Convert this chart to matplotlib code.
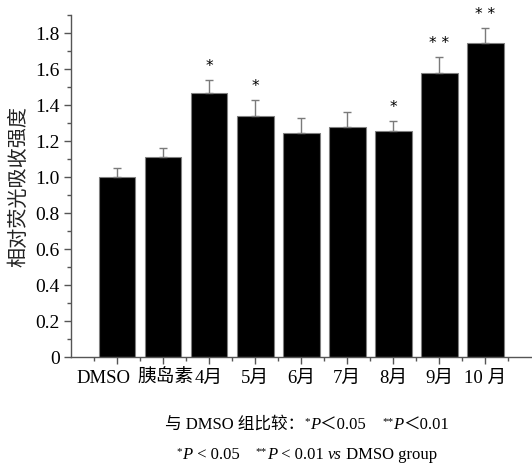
import matplotlib.pyplot as plt
from matplotlib.ticker import MultipleLocator, FixedLocator
from matplotlib.transforms import ScaledTranslation

plt.rcParams['font.family'] = ['Liberation Serif', 'Noto Sans CJK SC']

# 数据
groups = ['DMSO', '胰岛素', '4月', '5月', '6月', '7月', '8月', '9月', '10 月']
values = [1.00, 1.11, 1.47, 1.34, 1.245, 1.28, 1.255, 1.578, 1.744]
errors = [0.05, 0.05, 0.067, 0.087, 0.082, 0.082, 0.057, 0.09, 0.085]
marks = ['', '', '*', '*', '', '', '*', '**', '**']
y_ticks = [0, 0.2, 0.4, 0.6, 0.8, 1.0, 1.2, 1.4, 1.6, 1.8]
y_labels = ['0', '0.2', '0.4', '0.6', '0.8', '1.0', '1.2', '1.4', '1.6', '1.8']

fig = plt.figure(figsize=(5.32, 4.73), dpi=100)
ax = fig.add_axes([0.1335, 0.2452, 0.865, 0.7228])

x = list(range(len(groups)))
ax.bar(x, values, width=0.8, color='black', edgecolor='#808080', linewidth=0.8)
ax.errorbar(x, values, yerr=[[0] * len(errors), errors], fmt='none',
            ecolor='#7a7a7a', elinewidth=1.0, capsize=3, capthick=1.0)

# 显著性标记
for xi, v, e, m in zip(x, values, errors, marks):
    if m:
        ax.text(xi, v + e + 0.075, ' '.join(m), ha='center', va='center',
                fontsize=11, family='DejaVu Sans')

ax.set_xlim(-1, 9)
ax.set_ylim(0, 1.9)
ax.set_xticks(x)
ax.set_xticklabels(groups)
ax.xaxis.set_minor_locator(FixedLocator([i - 0.5 for i in range(len(groups) + 1)]))
ax.set_yticks(y_ticks)
ax.set_yticklabels(y_labels)
ax.yaxis.set_minor_locator(MultipleLocator(0.1))

for s in ['top', 'right']:
    ax.spines[s].set_visible(False)
for s in ['left', 'bottom']:
    ax.spines[s].set_color('#555555')
    ax.spines[s].set_linewidth(1.0)

ax.tick_params(axis='both', which='major', direction='out', length=5, width=1,
               color='#555555', labelsize=14)
ax.tick_params(axis='x', labelsize=13.5)
ax.tick_params(axis='both', which='minor', direction='out', length=3, width=1,
               color='#555555')
ax.tick_params(axis='x', pad=4)
ax.tick_params(axis='y', pad=3)

# 标签略微错开（与原图一致）
xl = ax.get_xticklabels()
xl[0].set_transform(xl[0].get_transform() + ScaledTranslation(-0.14, 0, fig.dpi_scale_trans))
xl[1].set_transform(xl[1].get_transform() + ScaledTranslation(0.03, 0, fig.dpi_scale_trans))

ax.set_ylabel('相对荧光吸收强度', fontsize=14.5, family='Noto Sans CJK SC',
              color='#222222', labelpad=4)

# 底部说明文字：逐段拼接（上标星号 + 斜体 P）
renderer = fig.canvas.get_renderer()
W = fig.get_figwidth() * fig.dpi
H = fig.get_figheight() * fig.dpi


def text_line(pieces, cx, cy):
    arts = []
    for s, kind in pieces:
        kw = dict(fontsize=12, va='baseline', ha='left')
        if kind == 'sup':
            kw['fontsize'] = 8
        if kind == 'it':
            kw['style'] = 'italic'
        arts.append((fig.text(0, 0, s, **kw), kind))
    widths = [a.get_window_extent(renderer).width for a, _ in arts]
    xpos = cx - sum(widths) / 2
    for (a, kind), w in zip(arts, widths):
        dy = 5 if kind == 'sup' else 0
        a.set_position((xpos / W, 1 - (cy - dy) / H))
        xpos += w


text_line([('与 DMSO 组比较：', 'n'), ('*', 'sup'), ('P', 'it'), ('＜0.05    ', 'n'),
           ('**', 'sup'), ('P', 'it'), ('＜0.01', 'n')], 307, 429)
text_line([('*', 'sup'), ('P', 'it'), (' < 0.05    ', 'n'), ('**', 'sup'), ('P', 'it'),
           (' < 0.01 ', 'n'), ('vs', 'it'), (' DMSO group', 'n')], 307, 459)

plt.savefig('out.png', dpi=100)
